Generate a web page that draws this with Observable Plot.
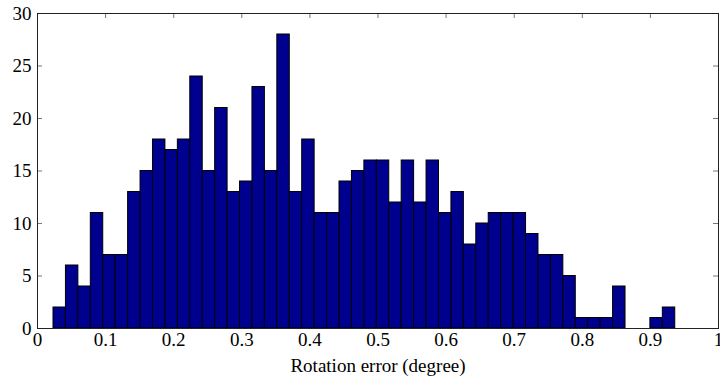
<!DOCTYPE html>
<html>
<head>
<meta charset="utf-8">
<script src="https://cdn.jsdelivr.net/npm/d3@7"></script>
<script src="https://cdn.jsdelivr.net/npm/@observablehq/plot@0.6"></script>
<style>
  html, body { margin: 0; padding: 0; background: #fff; }
  #chart svg { display: block; overflow: visible; }
  #chart svg, #chart svg text { font-family: "Liberation Serif", "Times New Roman", serif !important; }
</style>
</head>
<body>
<div id="chart"></div>
<script>
// Histogram counts (50 bins)
const counts = [2, 6, 4, 11, 7, 7, 13, 15, 18, 17,
                18, 24, 15, 21, 13, 14, 23, 15, 28, 13,
                18, 11, 11, 14, 15, 16, 16, 12, 16, 12,
                16, 11, 13, 8, 10, 11, 11, 11, 9, 7,
                7, 5, 1, 1, 1, 4, 0, 0, 1, 2];
// Bin range (data min / max)
const binMin = 0.0235;
const binMax = 0.9365;
const xTicks = [0, 0.1, 0.2, 0.3, 0.4, 0.5, 0.6, 0.7, 0.8, 0.9, 1];
const yTicks = [0, 5, 10, 15, 20, 25, 30];
const xLabel = "Rotation error (degree)";

const binW = (binMax - binMin) / counts.length;
const bins = counts.map((c, i) => ({x1: binMin + i * binW, x2: binMin + (i + 1) * binW, count: c}));

const W = 720, H = 376;
const mL = 37, mR = 2, mT = 13, mB = 48;
const fw = W - mL - mR, fh = H - mT - mB;
const tickLen = 5;
const tickColor = "#777";
const ff = "Liberation Serif";

const chart = Plot.plot({
  width: W, height: H,
  marginLeft: mL, marginRight: mR, marginTop: mT, marginBottom: mB,
  style: {fontFamily: ff, fontSize: "19px", color: "black", background: "white"},
  x: {domain: [0, 1]},
  y: {domain: [0, 30]},
  marks: [
    // inward ticks on all four sides
    Plot.ruleX(xTicks, {x: d => d, insetTop: fh - tickLen, stroke: tickColor}),
    Plot.ruleX(xTicks, {x: d => d, insetBottom: fh - tickLen, stroke: tickColor}),
    Plot.ruleY(yTicks, {y: d => d, insetLeft: fw - tickLen, stroke: tickColor}),
    Plot.ruleY(yTicks, {y: d => d, insetRight: fw - tickLen, stroke: tickColor}),
    Plot.rectY(bins, {x1: "x1", x2: "x2", y: "count", fill: "#00008F", stroke: "black", strokeWidth: 1}),
    Plot.frame({stroke: "#222", strokeWidth: 1}),
    Plot.axisX(xTicks, {tickSize: 0, tickPadding: 4, fontSize: 19, fontFamily: ff, tickFormat: d => String(d), label: null}),
    Plot.axisY(yTicks, {tickSize: 0, tickPadding: 6, fontSize: 19, fontFamily: ff, tickFormat: d => String(d), label: null}),
    Plot.text([xLabel], {frameAnchor: "bottom", lineAnchor: "middle", dy: 37, fontSize: 19, fontFamily: ff, text: d => d})
  ]
});
document.getElementById("chart").appendChild(chart);
</script>
</body>
</html>
